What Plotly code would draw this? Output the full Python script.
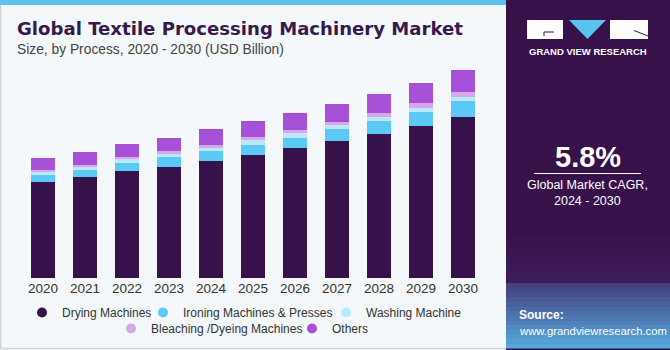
import plotly.graph_objects as go

# ---------------- data ----------------
years = ["2020", "2021", "2022", "2023", "2024", "2025", "2026", "2027", "2028", "2029", "2030"]
drying = [20.05, 21.18, 22.44, 23.28, 24.47, 25.71, 27.26, 28.73, 30.20, 31.87, 33.82]
ironing = [1.47, 1.47, 1.74, 2.10, 2.10, 2.24, 2.16, 2.43, 2.73, 2.94, 3.23]
washing = [0.71, 0.57, 0.71, 0.69, 0.75, 0.90, 0.99, 0.92, 0.84, 0.90, 0.96]
bleaching = [0.42, 0.48, 0.48, 0.57, 0.63, 0.63, 0.63, 0.69, 0.84, 0.92, 0.92]
others = [2.52, 2.73, 2.73, 2.73, 3.23, 3.44, 3.50, 3.77, 3.98, 4.19, 4.61]
series_names = ["Drying Machines", "Ironing Machines & Presses", "Washing Machine",
                "Bleaching /Dyeing Machines", "Others"]
label_year = "2022"
label_text = "$28.1B"
cagr_text = "5.8%"

# ---------------- styles ----------------
colors = ["#37114A", "#5BC8F5", "#BDE8FA", "#D5A8EA", "#A651D8"]
W, H = 670, 350
ML, MR, MT, MB = 22, 186, 50, 72
PW, PH = W - ML - MR, H - MT - MB
BG = "#F4F8FB"
FONT = "Liberation Sans, Arial, sans-serif"
# legend entry positions (left edge px, row centre px)
legend_pos = [(22, 312.5), (143, 312.5), (326, 312.5), (111, 328.5), (292, 328.5)]


def px(x):
    return (x - ML) / PW


def py(y):
    return (H - MB - y) / PH


fig = go.Figure()
values = [drying, ironing, washing, bleaching, others]
for i, (name, vals) in enumerate(zip(series_names, values)):
    fig.add_trace(go.Bar(
        x=years, y=vals, name=name, showlegend=False,
        marker=dict(color=colors[i], line=dict(width=0),
                    cornerradius=3 if i == 4 else 0),
        hoverinfo="skip"))

legend_ids = ["legend"] + [f"legend{k}" for k in range(2, 6)]
for i, name in enumerate(series_names):
    fig.add_trace(go.Scatter(
        x=[years[0]], y=[None], mode="markers", name=name,
        marker=dict(color=colors[i], size=10, symbol="circle"),
        legend=legend_ids[i], hoverinfo="skip"))

shapes = []
shapes.append(dict(type="rect", xref="paper", yref="paper", x0=px(0), x1=px(506),
                   y0=py(5), y1=py(0), fillcolor="#5BC3EF", line=dict(width=0), layer="below"))
shapes.append(dict(type="line", xref="paper", yref="paper", x0=px(0.5), x1=px(0.5),
                   y0=py(5), y1=py(348.5), line=dict(color="#CDD2D6", width=1.5)))
shapes.append(dict(type="line", xref="paper", yref="paper", x0=px(0.5), x1=px(506),
                   y0=py(348.5), y1=py(348.5), line=dict(color="#CDD2D6", width=1.5)))
shapes.append(dict(type="rect", xref="paper", yref="paper", x0=px(506), x1=px(670),
                   y0=py(350), y1=py(0), fillcolor="#37114A", line=dict(width=0)))


def lerp(c1, c2, t):
    a = [int(c1[k:k + 2], 16) for k in (1, 3, 5)]
    b = [int(c2[k:k + 2], 16) for k in (1, 3, 5)]
    return "#" + "".join(f"{int(round(a[j] + (b[j] - a[j]) * t)):02X}" for j in range(3))


n1 = 8
for k in range(n1):
    y0 = 230 + k * (283 - 230) / n1
    y1 = 230 + (k + 1) * (283 - 230) / n1
    shapes.append(dict(type="rect", xref="paper", yref="paper", x0=px(506), x1=px(670),
                       y0=py(y1 + 0.5), y1=py(y0), fillcolor=lerp("#37114A", "#3E1E5E", k / n1),
                       line=dict(width=0)))
n2 = 14
for k in range(n2):
    y0 = 283 + k * (348 - 283) / n2
    y1 = 283 + (k + 1) * (348 - 283) / n2
    shapes.append(dict(type="rect", xref="paper", yref="paper", x0=px(506), x1=px(670),
                       y0=py(y1 + 0.5), y1=py(y0), fillcolor=lerp("#45407E", "#55A8DC", k / (n2 - 1)),
                       line=dict(width=0)))
# logo
shapes.append(dict(type="rect", xref="paper", yref="paper", x0=px(527), x1=px(563),
                   y0=py(39), y1=py(20), fillcolor="white", line=dict(width=0)))
shapes.append(dict(type="rect", xref="paper", yref="paper", x0=px(610), x1=px(648),
                   y0=py(39), y1=py(20), fillcolor="white", line=dict(width=0)))
tri = "M {} {} L {} {} L {} {} Z".format(px(569), py(20), px(606), py(20), px(587.5), py(39))
shapes.append(dict(type="path", xref="paper", yref="paper", path=tri,
                   fillcolor="#5BC3EF", line=dict(width=0)))
shapes.append(dict(type="line", xref="paper", yref="paper", x0=px(544), x1=px(554),
                   y0=py(32), y1=py(32), line=dict(color="#37114A", width=1)))
shapes.append(dict(type="line", xref="paper", yref="paper", x0=px(544), x1=px(544),
                   y0=py(32), y1=py(36), line=dict(color="#37114A", width=1)))
shapes.append(dict(type="line", xref="paper", yref="paper", x0=px(634), x1=px(648),
                   y0=py(30.5), y1=py(36), line=dict(color="#37114A", width=1)))
shapes.append(dict(type="line", xref="paper", yref="paper", x0=px(534), x1=px(641),
                   y0=py(173.5), y1=py(173.5), line=dict(color="white", width=1)))

annotations = []


def note(text, x, y, size, color, xanchor="center", bold=False, yanchor="middle", family=FONT):
    annotations.append(dict(text=f"<b>{text}</b>" if bold else text, xref="paper", yref="paper",
                            x=px(x), y=py(y), xanchor=xanchor, yanchor=yanchor, showarrow=False,
                            borderpad=0, font=dict(family=family, size=size, color=color)))


note("Global Textile Processing Machinery Market", 16, 28.5, 18.1, "#361A4D", "left", True,
     family="DejaVu Sans, sans-serif")
note("Size, by Process, 2020 - 2030 (USD Billion)", 16, 49, 13.8, "#444444", "left")
note("GRAND VIEW RESEARCH", 587.5, 51.5, 9.5, "white", "center", True)
note(cagr_text, 587.5, 156.5, 29, "white", "center", True)
note("Global Market CAGR,", 587.5, 185, 12.5, "white")
note("2024 - 2030", 587.5, 201, 12.5, "white")
note("Source:", 517.5, 315, 12, "white", "left", True)
note("www.grandviewresearch.com", 517.5, 330.5, 11.3, "white", "left")

idx = years.index(label_year)
total = drying[idx] + ironing[idx] + washing[idx] + bleaching[idx] + others[idx]
annotations.append(dict(text=label_text, x=label_year, y=total, xref="x", yref="y",
                        yanchor="bottom", showarrow=False, yshift=9,
                        font=dict(family=FONT, size=13.5, color="#333333")))

legend_common = dict(orientation="h", xanchor="left", yanchor="middle", xref="container",
                     yref="container", traceorder="normal",
                     bgcolor="rgba(0,0,0,0)", font=dict(family=FONT, size=12, color="#333333"),
                     itemclick=False, itemdoubleclick=False)
legend_layout = {lid: dict(x=lx / W, y=1 - ly / H, **legend_common)
                 for lid, (lx, ly) in zip(legend_ids, legend_pos)}

fig.update_layout(
    width=W, height=H, barmode="stack", bargap=0.43,
    margin=dict(l=ML, r=MR, t=MT, b=MB, pad=0, autoexpand=False),
    paper_bgcolor=BG, plot_bgcolor=BG,
    font=dict(family=FONT, color="#333333"),
    xaxis=dict(type="category", categoryorder="array", categoryarray=years,
               range=[-0.5, len(years) - 0.5],
               showgrid=False, showline=False, zeroline=False, ticks="",
               tickfont=dict(family=FONT, size=13.5, color="#333333"), fixedrange=True),
    yaxis=dict(range=[0, 47.8], visible=False, fixedrange=True),
    shapes=shapes, annotations=annotations,
    showlegend=True,
    **legend_layout,
)

fig.write_html("out.html", config={"displayModeBar": False})
